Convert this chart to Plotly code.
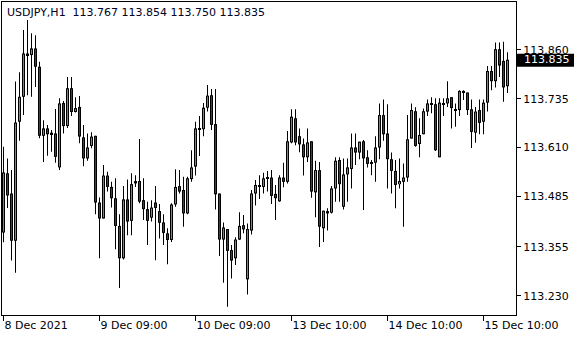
import plotly.graph_objects as go

symbol = "USDJPY,H1"
bars = list(range(127))

open_ = [113.392, 113.544, 113.492, 113.371, 113.676, 113.740, 113.851, 113.847, 113.864, 113.817,
         113.640, 113.659, 113.648, 113.646, 113.559, 113.724, 113.665, 113.762, 113.701, 113.714,
         113.636, 113.582, 113.614, 113.640, 113.469, 113.428, 113.538, 113.509, 113.480, 113.409,
         113.326, 113.477, 113.422, 113.518, 113.524, 113.475, 113.452, 113.430, 113.469, 113.447,
         113.418, 113.390, 113.373, 113.464, 113.511, 113.501, 113.441, 113.529, 113.561, 113.659,
         113.657, 113.712, 113.744, 113.670, 113.492, 113.374, 113.401, 113.347, 113.326, 113.374,
         113.411, 113.272, 113.397, 113.492, 113.511, 113.509, 113.533, 113.533, 113.491, 113.472,
         113.533, 113.522, 113.623, 113.685, 113.639, 113.618, 113.585, 113.626, 113.495, 113.552,
         113.403, 113.447, 113.443, 113.505, 113.578, 113.458, 113.541, 113.555, 113.610, 113.597,
         113.626, 113.585, 113.572, 113.571, 113.610, 113.693, 113.646, 113.580, 113.550, 113.516,
         113.522, 113.533, 113.633, 113.703, 113.619, 113.644, 113.702, 113.723, 113.721, 113.585,
         113.723, 113.723, 113.739, 113.708, 113.706, 113.755, 113.751, 113.708, 113.648, 113.706,
         113.676, 113.725, 113.806, 113.780, 113.862, 113.832, 113.767]

high = [113.612, 113.582, 113.552, 113.779, 113.803, 113.911, 113.937, 113.903, 113.898, 113.830,
        113.680, 113.668, 113.655, 113.709, 113.736, 113.729, 113.791, 113.791, 113.739, 113.742,
        113.668, 113.646, 113.649, 113.640, 113.482, 113.565, 113.548, 113.522, 113.531, 113.439,
        113.511, 113.528, 113.544, 113.539, 113.632, 113.531, 113.471, 113.475, 113.511, 113.465,
        113.439, 113.403, 113.467, 113.554, 113.552, 113.535, 113.535, 113.603, 113.676, 113.691,
        113.724, 113.770, 113.760, 113.760, 113.492, 113.418, 113.401, 113.360, 113.380, 113.444,
        113.437, 113.415, 113.501, 113.527, 113.539, 113.545, 113.550, 113.552, 113.514, 113.539,
        113.571, 113.652, 113.708, 113.708, 113.659, 113.633, 113.659, 113.626, 113.576, 113.573,
        113.448, 113.454, 113.511, 113.585, 113.585, 113.582, 113.582, 113.646, 113.646, 113.625,
        113.629, 113.603, 113.578, 113.639, 113.723, 113.733, 113.721, 113.597, 113.578, 113.582,
        113.569, 113.693, 113.723, 113.713, 113.685, 113.710, 113.733, 113.739, 113.736, 113.736,
        113.736, 113.780, 113.739, 113.723, 113.757, 113.757, 113.751, 113.733, 113.714, 113.733,
        113.733, 113.819, 113.819, 113.879, 113.879, 113.881, 113.854]

low = [113.367, 113.455, 113.320, 113.289, 113.627, 113.693, 113.744, 113.740, 113.765, 113.634,
       113.573, 113.589, 113.599, 113.571, 113.552, 113.646, 113.660, 113.691, 113.700, 113.621,
       113.562, 113.576, 113.608, 113.439, 113.326, 113.428, 113.497, 113.456, 113.349, 113.250,
       113.323, 113.385, 113.385, 113.509, 113.467, 113.424, 113.360, 113.420, 113.321, 113.377,
       113.360, 113.311, 113.368, 113.458, 113.492, 113.407, 113.439, 113.522, 113.538, 113.588,
       113.639, 113.702, 113.655, 113.451, 113.332, 113.263, 113.202, 113.274, 113.309, 113.373,
       113.390, 113.233, 113.387, 113.461, 113.478, 113.492, 113.497, 113.465, 113.424, 113.471,
       113.508, 113.518, 113.621, 113.616, 113.598, 113.538, 113.573, 113.481, 113.431, 113.355,
       113.368, 113.397, 113.441, 113.471, 113.471, 113.451, 113.471, 113.505, 113.565, 113.580,
       113.450, 113.559, 113.539, 113.522, 113.580, 113.627, 113.505, 113.492, 113.454, 113.505,
       113.407, 113.522, 113.633, 113.612, 113.585, 113.644, 113.691, 113.698, 113.601, 113.585,
       113.691, 113.714, 113.659, 113.663, 113.691, 113.732, 113.693, 113.609, 113.622, 113.644,
       113.644, 113.702, 113.757, 113.764, 113.791, 113.727, 113.750]

close = [113.546, 113.487, 113.371, 113.674, 113.740, 113.851, 113.847, 113.864, 113.817, 113.640,
         113.659, 113.644, 113.644, 113.586, 113.723, 113.665, 113.762, 113.701, 113.711, 113.638,
         113.582, 113.610, 113.638, 113.469, 113.428, 113.538, 113.509, 113.480, 113.409, 113.326,
         113.477, 113.420, 113.516, 113.524, 113.471, 113.452, 113.422, 113.456, 113.455, 113.417,
         113.391, 113.373, 113.464, 113.509, 113.497, 113.441, 113.531, 113.559, 113.659, 113.657,
         113.712, 113.743, 113.668, 113.490, 113.374, 113.405, 113.345, 113.320, 113.374, 113.409,
         113.400, 113.401, 113.492, 113.514, 113.509, 113.531, 113.531, 113.486, 113.480, 113.533,
         113.522, 113.626, 113.689, 113.623, 113.618, 113.585, 113.623, 113.497, 113.552, 113.407,
         113.448, 113.441, 113.505, 113.576, 113.516, 113.541, 113.559, 113.610, 113.597, 113.625,
         113.582, 113.568, 113.569, 113.610, 113.693, 113.644, 113.580, 113.550, 113.514, 113.524,
         113.533, 113.631, 113.706, 113.614, 113.642, 113.703, 113.723, 113.721, 113.603, 113.725,
         113.721, 113.736, 113.711, 113.705, 113.755, 113.752, 113.706, 113.650, 113.702, 113.673,
         113.725, 113.806, 113.780, 113.862, 113.820, 113.764, 113.835]

time_tick_bars = [0, 24, 48, 72, 96, 120]
time_tick_labels = ["8 Dec 2021", "9 Dec 09:00", "10 Dec 09:00",
                    "13 Dec 10:00", "14 Dec 10:00", "15 Dec 10:00"]
price_ticks = [113.230, 113.355, 113.485, 113.610, 113.735, 113.860]

FONT = "DejaVu Sans"
BULL = "#00dd00"
BEAR = "#dd0000"
W, H = 580, 340
M = dict(l=2, r=64, t=2, b=25)
Y_RANGE = [113.1806, 113.983]
PX = (Y_RANGE[1] - Y_RANGE[0]) / (H - M["t"] - M["b"])  # price per screen pixel

body_lo = [min(o, c) for o, c in zip(open_, close)]
body_len = [max(abs(c - o), PX) for o, c in zip(open_, close)]
inner_len = [bl - 2 * PX if bl > 2.5 * PX else None for bl in body_len]
inner_base = [b + PX for b in body_lo]
body_col = [BULL if c > o else BEAR for o, c in zip(open_, close)]
wick_len = [h - l for h, l in zip(high, low)]

fig = go.Figure()
# wicks
fig.add_trace(go.Bar(x=bars, y=wick_len, base=low, width=0.25,
                     marker=dict(color="black", line=dict(width=0)),
                     hoverinfo="skip", showlegend=False))
# body outline
fig.add_trace(go.Bar(x=bars, y=body_len, base=body_lo, width=0.75,
                     marker=dict(color="black", line=dict(width=0)),
                     hoverinfo="skip", showlegend=False))
# body fill
fig.add_trace(go.Bar(x=bars, y=inner_len, base=inner_base, width=0.25,
                     marker=dict(color=body_col, line=dict(width=0)),
                     hoverinfo="skip", showlegend=False))

last_close = close[-1]
fig.add_shape(type="rect", xref="paper", xsizemode="pixel", xanchor=1, x0=1, x1=58,
              yref="y", ysizemode="pixel", yanchor=last_close, y0=-7, y1=6,
              fillcolor="black", line=dict(width=0), layer="above")
fig.add_annotation(xref="paper", x=1, xanchor="left", xshift=6,
                   yref="y", y=last_close, yanchor="middle",
                   text=f"{last_close:.3f}", showarrow=False,
                   font=dict(family=FONT, size=11, color="white"))

title = f"{symbol}  {open_[-1]:.3f} {high[-1]:.3f} {low[-1]:.3f} {close[-1]:.3f}"
fig.add_annotation(xref="paper", x=0, xanchor="left", xshift=3,
                   yref="paper", y=1, yanchor="top", yshift=-2,
                   text=title, showarrow=False,
                   font=dict(family=FONT, size=11, color="#000020"))

fig.update_layout(
    width=W, height=H, margin=M,
    paper_bgcolor="white", plot_bgcolor="white",
    font=dict(family=FONT, size=11, color="black"),
    showlegend=False, barmode="overlay",
)
fig.update_xaxes(
    range=[-0.375, 128.125],
    showgrid=False, zeroline=False,
    showline=True, mirror=True, linecolor="black", linewidth=1,
    ticks="outside", ticklen=5, tickcolor="black", tickwidth=1,
    tickvals=time_tick_bars, ticktext=time_tick_labels,
    ticklabelposition="outside right",
    tickfont=dict(family=FONT, size=11, color="black"),
)
fig.update_yaxes(
    side="right", range=Y_RANGE,
    showgrid=False, zeroline=False,
    showline=True, mirror=True, linecolor="black", linewidth=1,
    ticks="outside", ticklen=4, tickcolor="black", tickwidth=1,
    tickvals=price_ticks, tickformat=".3f",
    tickfont=dict(family=FONT, size=11, color="black"),
)

fig.write_html("out.html")
